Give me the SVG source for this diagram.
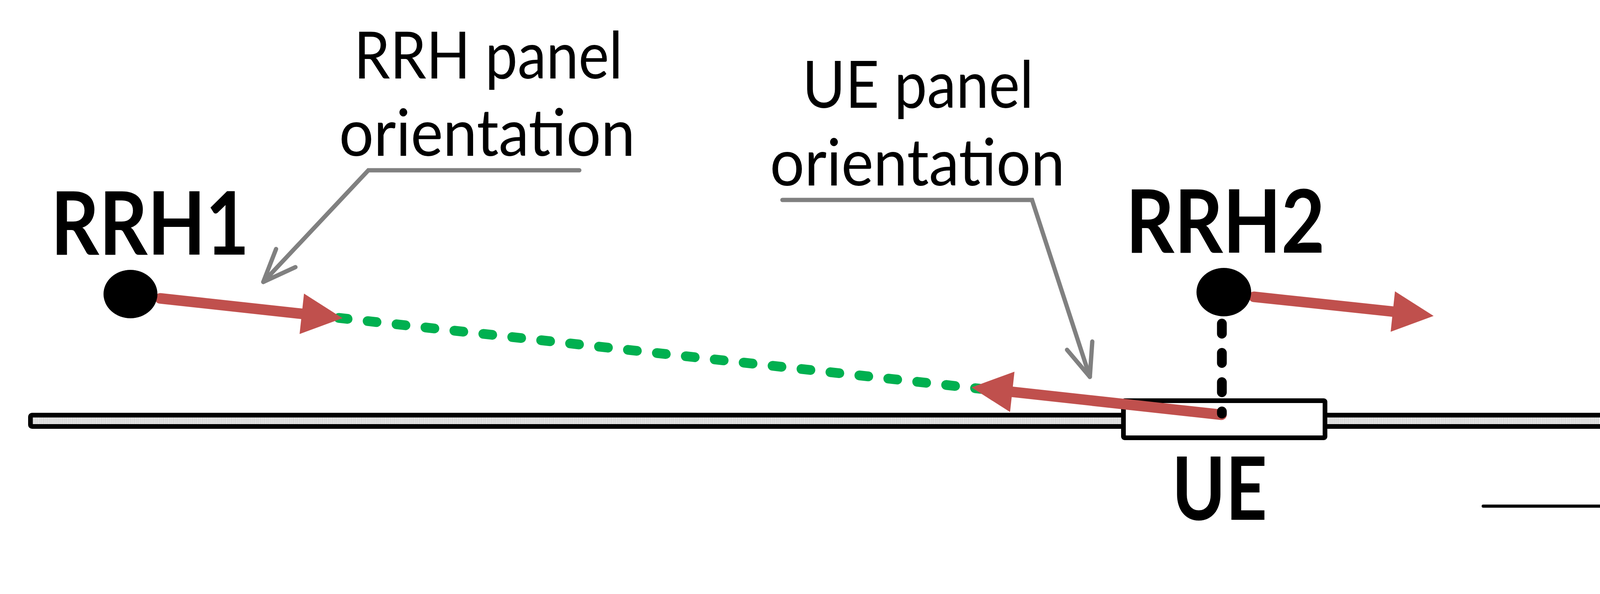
<svg xmlns="http://www.w3.org/2000/svg" width="4690" height="1521" viewBox="0 0 4690 1521">
  <style>
    .lbl { font-family: "Lato", "Open Sans", "Liberation Sans", sans-serif; fill: #000; }
    .reg { font-weight: 400; font-size: 167px; }
    .bold { font-weight: 700; font-size: 225px; }
    .red { stroke: #C0504D; stroke-width: 27; fill: none; }
    .call { stroke: #808080; stroke-width: 11; fill: none; stroke-linejoin: miter; }
  </style>
  <defs>
    <pattern id="hatch" patternUnits="userSpaceOnUse" width="3.7" height="10">
      <rect width="3.7" height="10" fill="#ffffff"/>
      <rect x="0" width="1.1" height="10" fill="#8c8c8c"/>
    </pattern>
    <marker id="redHead" markerUnits="userSpaceOnUse" markerWidth="120" markerHeight="120" refX="0" refY="52" orient="auto" overflow="visible">
      <path d="M0,0 L105,52 L0,104 Z" fill="#C0504D"/>
    </marker>
    <marker id="openHead" markerUnits="userSpaceOnUse" markerWidth="100" markerHeight="100" refX="0" refY="0" orient="auto" overflow="visible">
      <path d="M-84,-34 L0,0 L-84,34" fill="none" stroke="#808080" stroke-width="11" stroke-linecap="round" stroke-linejoin="round"/>
    </marker>
    <marker id="axisHead" markerUnits="userSpaceOnUse" markerWidth="100" markerHeight="100" refX="0" refY="0" orient="auto" overflow="visible">
      <path d="M-66,-36 L0,0 L-66,36" fill="none" stroke="#000" stroke-width="8" stroke-linecap="round" stroke-linejoin="round"/>
    </marker>
  </defs>

  <rect width="4690" height="1521" fill="#ffffff"/>

  <g id="rail">
    <rect x="78" y="1063" width="4169" height="29" rx="4" fill="url(#hatch)" stroke="#000" stroke-width="12"/>
  </g>

  <g id="ue">
    <rect x="2876" y="1026" width="516" height="95" rx="3" fill="#ffffff" stroke="#000" stroke-width="12"/>
    <text class="lbl bold" x="3000" y="1331" textLength="244" lengthAdjust="spacingAndGlyphs">UE</text>
  </g>

  <g id="connectors">
    <!-- green dotted link RRH1 -> UE -->
    <line x1="867" y1="814" x2="2520" y2="996.6" stroke="#00B050" stroke-width="25" stroke-linecap="round" stroke-dasharray="23 51.5"/>
    <!-- RRH1 panel orientation -->
    <line class="red" x1="410" y1="764" x2="772.6" y2="803.5" stroke-linecap="round" marker-end="url(#redHead)"/>
    <!-- RRH2 panel orientation -->
    <line class="red" x1="3210" y1="760" x2="3565.6" y2="797.8" stroke-linecap="round" marker-end="url(#redHead)"/>
    <!-- UE panel orientation -->
    <line class="red" x1="3127" y1="1062" x2="2591.4" y2="1003.4" stroke-linecap="round" marker-end="url(#redHead)"/>
    <!-- vertical projection RRH2 -> UE -->
    <line x1="3128" y1="828.5" x2="3128" y2="1059" stroke="#000" stroke-width="25" stroke-linecap="round" stroke-dasharray="26 49"/>
    <!-- callouts -->
    <polyline class="call" points="1483,436 943,436 674,722" stroke-linecap="round" marker-end="url(#openHead)"/>
    <polyline class="call" points="2003,512 2642,512 2790,965" stroke-linecap="round" marker-end="url(#openHead)"/>
    <!-- x axis -->
    <line x1="3797" y1="1296" x2="4519" y2="1296" stroke="#000" stroke-width="8" stroke-linecap="round" marker-end="url(#axisHead)"/>
  </g>

  <g id="rrh1">
    <ellipse cx="334" cy="753" rx="69" ry="62" fill="#000"/>
    <text class="lbl bold" x="130" y="652" textLength="508" lengthAdjust="spacingAndGlyphs">RRH1</text>
  </g>

  <g id="rrh2">
    <ellipse cx="3133" cy="748" rx="70" ry="62" fill="#000"/>
    <text class="lbl bold" x="2882" y="647" textLength="510" lengthAdjust="spacingAndGlyphs">RRH2</text>
  </g>

  <g id="label-rrh-panel">
    <text class="lbl reg" x="906" y="201" textLength="688" lengthAdjust="spacingAndGlyphs">RRH panel</text>
    <text class="lbl reg" x="868" y="399" textLength="758" lengthAdjust="spacingAndGlyphs">orientation</text>
  </g>

  <g id="label-ue-panel">
    <text class="lbl reg" x="2054" y="276" textLength="592" lengthAdjust="spacingAndGlyphs">UE panel</text>
    <text class="lbl reg" x="1971" y="475" textLength="755" lengthAdjust="spacingAndGlyphs">orientation</text>
  </g>

  <g id="label-x">
    <text class="lbl" x="4502" y="1485" font-size="140" textLength="86" lengthAdjust="spacingAndGlyphs">X</text>
  </g>
</svg>
